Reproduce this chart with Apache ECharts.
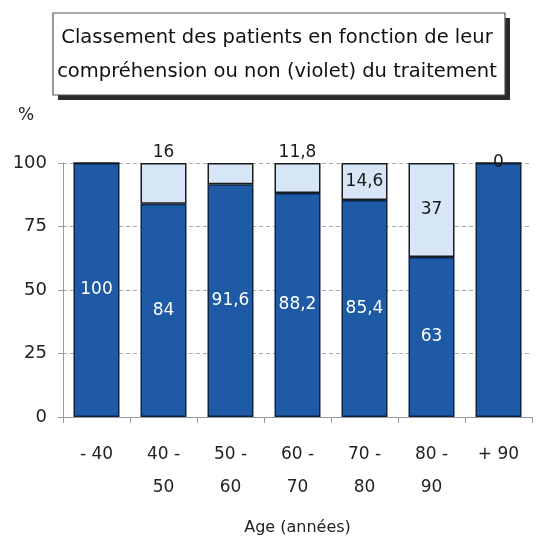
<!DOCTYPE html>
<html>
<head>
<meta charset="utf-8">
<script src="https://cdn.jsdelivr.net/npm/echarts@6/dist/echarts.min.js"></script>
<style>html,body{margin:0;padding:0;background:#fff}#c{width:537px;height:548px}</style>
</head>
<body>
<div id="c"></div>
<script>
const categories = ['- 40', '40 -\n50', '50 -\n60', '60 -\n70', '70 -\n80', '80 -\n90', '+ 90'];
const comprehension = [100, 84, 91.6, 88.2, 85.4, 63, 100];
const nonComprehension = [0, 16, 8.4, 11.8, 14.6, 37, 0];
const bottomLabelShown = [true, true, true, true, true, true, false];
const topLabelPlacement = [null, 'top', null, 'top', 'inside', 'inside', 'inside'];
const yTicks = [0, 25, 50, 75, 100];

const FONT = 'DejaVu Sans';
const fmt = v => String(v).replace('.', ',');

const chart = echarts.init(document.getElementById('c'), null, {renderer: 'canvas'});
chart.setOption({
  animation: false,
  textStyle: {fontFamily: FONT},
  grid: {left: 63, right: 5, top: 163, bottom: 131, containLabel: false},
  graphic: [
    {type: 'rect', shape: {x: 58, y: 18, width: 452, height: 82}, style: {fill: '#2a2a2a'}},
    {type: 'rect', shape: {x: 53, y: 13, width: 452, height: 82}, style: {fill: '#fff', stroke: '#555', lineWidth: 1.2}},
    {type: 'text', x: 277, y: 38, style: {text: 'Classement des patients en fonction de leur', font: '19.5px "' + FONT + '"', fill: '#111', align: 'center', verticalAlign: 'middle'}},
    {type: 'text', x: 277, y: 72, style: {text: 'compréhension ou non (violet) du traitement', font: '19.5px "' + FONT + '"', fill: '#111', align: 'center', verticalAlign: 'middle'}},
    {type: 'text', x: 26, y: 116, style: {text: '%', font: '17px "' + FONT + '"', fill: '#222', align: 'center', verticalAlign: 'middle'}}
  ],
  xAxis: {
    type: 'category',
    data: categories,
    name: 'Age (années)',
    nameLocation: 'middle',
    nameGap: 103,
    nameTextStyle: {fontSize: 16, color: '#222', fontFamily: FONT},
    axisLine: {lineStyle: {color: '#999', width: 1}},
    axisTick: {show: true, length: 6, lineStyle: {color: '#999'}},
    axisLabel: {fontSize: 17, color: '#222', lineHeight: 33, margin: 21, fontFamily: FONT}
  },
  yAxis: {
    type: 'value',
    min: yTicks[0],
    max: yTicks[yTicks.length - 1],
    interval: 25,
    axisLine: {show: true, lineStyle: {color: '#999'}},
    axisTick: {show: true, length: 5, lineStyle: {color: '#999'}},
    axisLabel: {fontSize: 18, color: '#222', margin: 16, fontFamily: FONT},
    splitLine: {show: true, lineStyle: {color: '#aaa', type: [4, 3], width: 1}}
  },
  series: [
    {
      type: 'bar',
      stack: 'total',
      barWidth: 46,
      data: comprehension.map((v, i) => ({value: v, label: {show: bottomLabelShown[i]}})),
      itemStyle: {color: '#1e5aa5', borderColor: '#0c2545', borderWidth: 1.5},
      label: {show: true, position: 'inside', color: '#fff', fontSize: 17, fontFamily: FONT, formatter: p => fmt(p.value)}
    },
    {
      type: 'bar',
      stack: 'total',
      barWidth: 46,
      data: nonComprehension.map((v, i) => ({
        value: v,
        label: topLabelPlacement[i] ? {show: true, position: topLabelPlacement[i], distance: 2} : {show: false}
      })),
      itemStyle: {color: '#d6e6f6', borderColor: '#1a1a1a', borderWidth: 1.5},
      label: {show: true, color: '#1a1a1a', fontSize: 17, fontFamily: FONT, formatter: p => fmt(p.value)}
    }
  ]
});
</script>
</body>
</html>
